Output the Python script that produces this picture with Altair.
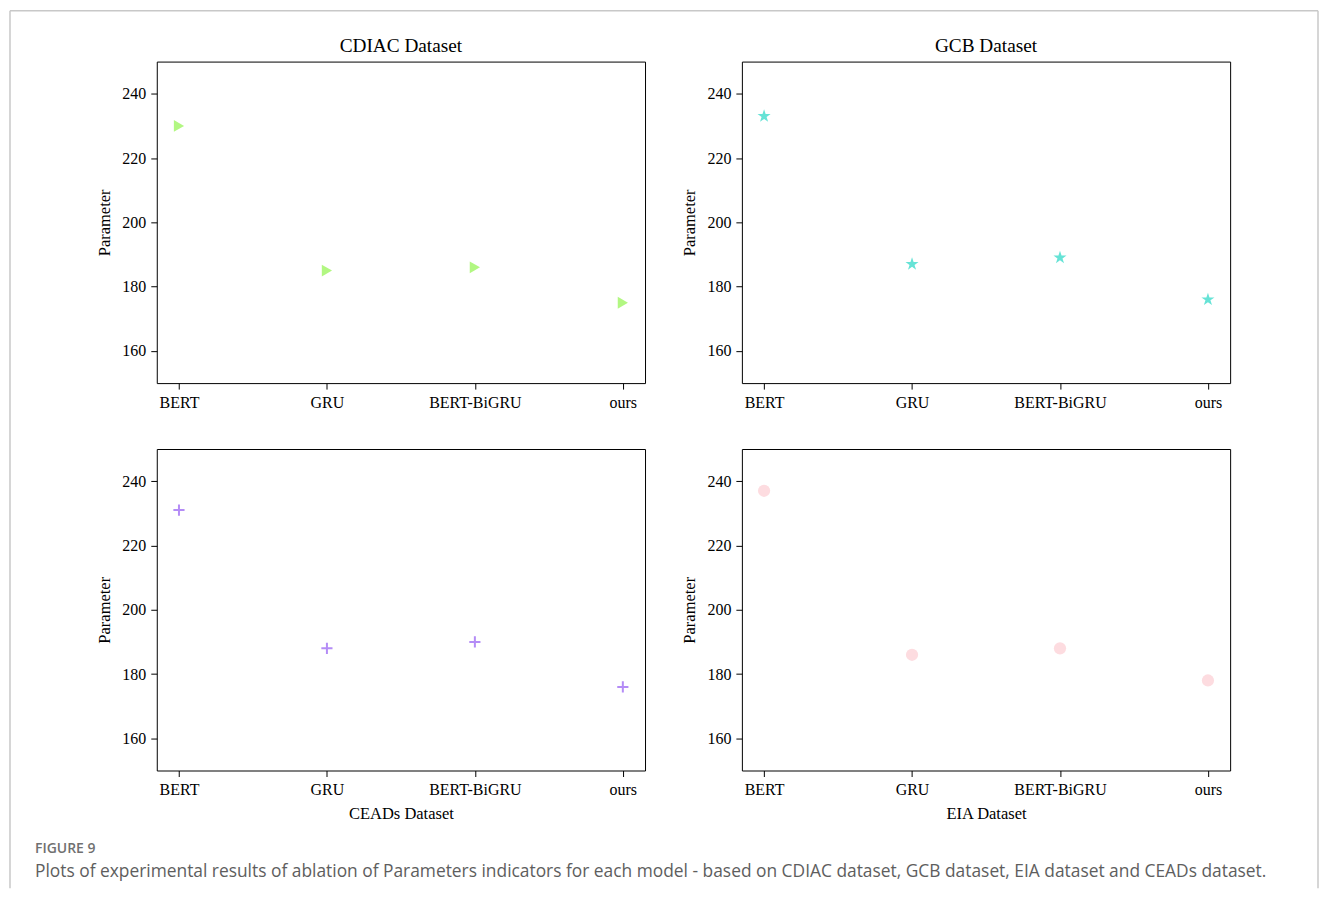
import altair as alt
import pandas as pd

models = ["BERT", "GRU", "BERT-BiGRU", "ours"]
cdiac = [230, 185, 186, 175]
gcb = [233, 187, 189, 176]
ceads = [231, 188, 190, 176]
eia = [237, 186, 188, 178]

caption_head = "FIGURE 9"
caption_text = ("Plots of experimental results of ablation of Parameters indicators for each model - "
                "based on CDIAC dataset, GCB dataset, EIA dataset and CEADs dataset.")

SERIF = "Liberation Serif"
PW, PH = 489, 322
STAR = ("M0,-1L0.2245,-0.309L0.951,-0.309L0.363,0.118L0.588,0.809L0,0.382"
        "L-0.588,0.809L-0.363,0.118L-0.951,-0.309L-0.2245,-0.309Z")


def panel(values, shape, color, title=None, xtitle=None, filled=True, size=100, sw=1, extra=None):
    df = pd.DataFrame({"model": models, "value": values})
    x_axis = alt.Axis(labelAngle=0, title=xtitle) if xtitle else alt.Axis(labelAngle=0, title=None)
    ch = alt.Chart(df).mark_point(
        shape=shape, filled=filled, color=color, size=size, strokeWidth=sw, opacity=1
    ).encode(
        x=alt.X("model:N", sort=models, scale=alt.Scale(type="point", padding=0.15), axis=x_axis),
        y=alt.Y("value:Q", scale=alt.Scale(domain=[150, 250], nice=False, zero=False),
                axis=alt.Axis(values=[160, 180, 200, 220, 240], title="Parameter")),
    )
    if extra:
        ch = alt.layer(ch, *extra)
    props = dict(width=PW, height=PH, view=alt.ViewBackground(stroke="black", strokeWidth=1))
    if title:
        props["title"] = alt.TitleParams(title, font=SERIF, fontSize=19.3, fontWeight="normal",
                                         color="black", offset=-14, baseline="bottom")
    return ch.properties(**props)


# caption and figure frame, drawn relative to the bottom-left panel
cap_base = alt.Chart(pd.DataFrame({"a": [0]}))
head = cap_base.mark_text(font="Open Sans", fontSize=14, fontWeight=600, color="#707070",
                          align="left", baseline="middle").encode(
    x=alt.value(-122), y=alt.value(401), text=alt.value(caption_head))
body = cap_base.mark_text(font="Open Sans", fontSize=17.4, color="#5e5e5e",
                          align="left", baseline="middle").encode(
    x=alt.value(-122), y=alt.value(424), text=alt.value(caption_text))
frame_l = cap_base.mark_rule(color="#c8c8c8", strokeWidth=1.5).encode(
    x=alt.value(-147), y=alt.value(-439), y2=alt.value(440))
frame_t = cap_base.mark_rule(color="#c8c8c8", strokeWidth=1.5).encode(
    x=alt.value(-147), x2=alt.value(1163), y=alt.value(-439))
frame_r = cap_base.mark_rule(color="#c8c8c8", strokeWidth=1.5).encode(
    x=alt.value(1163), y=alt.value(-439), y2=alt.value(440))

p1 = panel(cdiac, "triangle-right", "#b2f782", title="CDIAC Dataset", size=140)
p2 = panel(gcb, STAR, "#66e3d6", title="GCB Dataset", size=190)
p3 = panel(ceads, "M-1,0L1,0M0,-1L0,1", "#b48cf6", xtitle="CEADs Dataset", filled=False,
           size=125, sw=2, extra=[frame_l, frame_t, frame_r, head, body])
p4 = panel(eia, "circle", "#fddce0", xtitle="EIA Dataset", size=150)

chart = alt.concat(p1, p2, p3, p4, columns=2, spacing=alt.RowColnumber(row=66, column=97),
                   bounds="flush").properties(
    padding=0, background="white"
).configure_axis(
    domain=False, grid=False, tickColor="black", tickSize=6, tickWidth=1,
    labelFont=SERIF, labelFontSize=16, labelColor="black", labelPadding=5,
    titleFont=SERIF, titleFontSize=16.5, titleFontWeight="normal", titleColor="black",
    titlePadding=8,
).configure_axisY(titlePadding=9)

chart.save("out.html", embed_options={"renderer": "svg", "actions": False})
